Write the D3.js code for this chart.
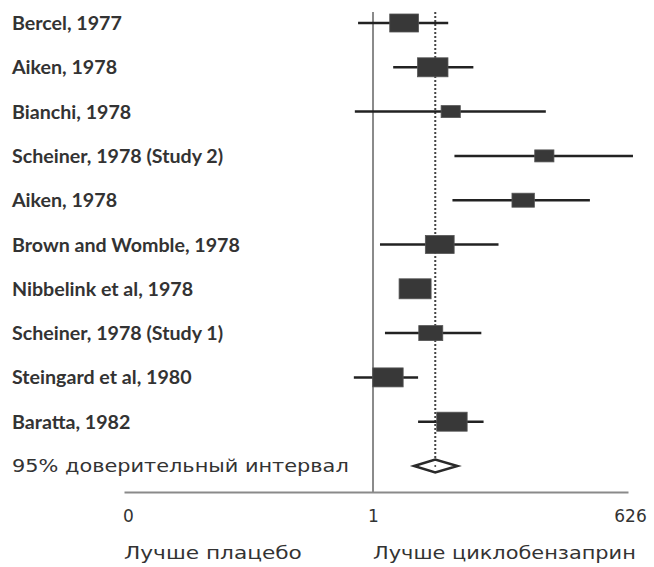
<!DOCTYPE html>
<html><head><meta charset="utf-8">
<script src="https://cdn.jsdelivr.net/npm/d3@7"></script>
<style>
html,body{margin:0;padding:0;background:#fff;}
svg{display:block;}
</style></head>
<body>
<svg id="chart" width="654" height="567"></svg>
<script>
// ---- data ----
const studies = ["Bercel, 1977","Aiken, 1978","Bianchi, 1978","Scheiner, 1978 (Study 2)","Aiken, 1978","Brown and Womble, 1978","Nibbelink et al, 1978","Scheiner, 1978 (Study 1)","Steingard et al, 1980","Baratta, 1982"];
const estimate = [1.125,1.240,1.312,1.688,1.603,1.268,1.169,1.232,1.060,1.317];
const ciLow    = [0.940,1.081,0.927,1.327,1.319,1.028,1.110,1.048,0.923,1.181];
const ciHigh   = [1.302,1.403,1.694,2.044,1.871,1.504,1.228,1.435,1.181,1.444];
const weight   = [18,19,12,12,14,18,20,15,19,19];
const pooledLabel = "95% доверительный интервал";
const pooled = {est:1.250, lo:1.165, hi:1.339};
const tickValues = [0,1,2.024];
const tickLabels = ["0","1","626"];
const sideLabels = ["Лучше плацебо","Лучше циклобензаприн"];

// ---- layout ----
const svg = d3.select("#chart");
const x = d3.scaleLinear().domain([0,2.024]).range([124,628]);
const rows = studies.map((d,i)=>i).concat([studies.length]);
const y = d3.scalePoint().domain(rows).range([23,466]);
const hScale = d3.scaleLinear().domain([0,20]).range([0,20]);
const axisY = 492;
const textCol = "#333";
const lightFont = "'DejaVu Sans', sans-serif";

// widen a text element horizontally to a target width (geometric-font look)
function fitWide(node, x0, y0, target){
  const w = node.getComputedTextLength();
  const sx = target / Math.max(1,w);
  d3.select(node).attr("x",0).attr("y",0)
    .attr("transform",`translate(${x0},${y0}) scale(${sx.toFixed(3)},1)`);
}

// vertical null line
svg.append("line").attr("x1",x(1)).attr("x2",x(1)).attr("y1",12).attr("y2",axisY)
  .attr("stroke","#8a8a8a").attr("stroke-width",2);
// dotted pooled line
svg.append("line").attr("x1",x(pooled.est)).attr("x2",x(pooled.est)).attr("y1",12).attr("y2",y(studies.length))
  .attr("stroke","#444").attr("stroke-width",2).attr("stroke-dasharray","2,2");

// axis
const axis = d3.axisBottom(x).tickValues(tickValues).tickFormat((d,i)=>tickLabels[i]).tickSize(0).tickPadding(18);
const ax = svg.append("g").attr("transform",`translate(0,${axisY})`).call(axis);
ax.select(".domain").attr("stroke","#8a8a8a").attr("stroke-width",2);
ax.selectAll("text").attr("font-family",lightFont).attr("font-size",17).attr("fill",textCol)
  .attr("dx",(d,i)=> i===0 ? 4 : (i===2 ? 2 : 0));

// labels
const lab = svg.append("g").selectAll("text").data(studies).join("text")
  .attr("x",12).attr("y",(d,i)=>y(i)).attr("dy","0.36em")
  .attr("font-family","Lato, 'Open Sans', sans-serif").attr("font-weight",700)
  .attr("font-size",16).attr("fill",textCol).text(d=>d);
let maxW = 0; lab.each(function(){maxW=Math.max(maxW,this.getComputedTextLength());});
lab.attr("font-size",16*228/Math.max(1,maxW));

const pl = svg.append("text").attr("dy","0.36em")
  .attr("font-family",lightFont).attr("font-size",17).attr("fill",textCol)
  .text(pooledLabel);
fitWide(pl.node(), 12, y(studies.length), 337);

// whiskers
svg.append("g").selectAll("line").data(studies).join("line")
  .attr("x1",(d,i)=>x(ciLow[i])).attr("x2",(d,i)=>x(ciHigh[i]))
  .attr("y1",(d,i)=>y(i)).attr("y2",(d,i)=>y(i))
  .attr("stroke","#222").attr("stroke-width",2.5);
// boxes
svg.append("g").selectAll("rect").data(studies).join("rect")
  .attr("x",(d,i)=>x(estimate[i]) - hScale(weight[i])*0.8)
  .attr("width",(d,i)=>hScale(weight[i])*1.6)
  .attr("y",(d,i)=>y(i)-hScale(weight[i])/2)
  .attr("height",(d,i)=>hScale(weight[i]))
  .attr("fill","#383838").attr("stroke","#555").attr("stroke-width",0.8);

// diamond
const yc = y(studies.length), dh = 6.5;
svg.append("path")
  .attr("d",`M${x(pooled.lo)},${yc}L${x(pooled.est)},${yc-dh}L${x(pooled.hi)},${yc}L${x(pooled.est)},${yc+dh}Z`)
  .attr("fill","#fff").attr("stroke","#2a2a2a").attr("stroke-width",2.5).attr("stroke-linejoin","miter");
svg.append("circle").attr("cx",x(pooled.est)).attr("cy",yc).attr("r",1).attr("fill","#444");

// side labels
const sl = svg.append("g").selectAll("text").data(sideLabels).join("text")
  .attr("dy","0.36em")
  .attr("font-family",lightFont).attr("font-size",18).attr("fill",textCol)
  .text(d=>d);
sl.each(function(d,i){ fitWide(this, i===0 ? x(0) : x(1), 553, i===0 ? 178 : 263); });
</script>
</body></html>
